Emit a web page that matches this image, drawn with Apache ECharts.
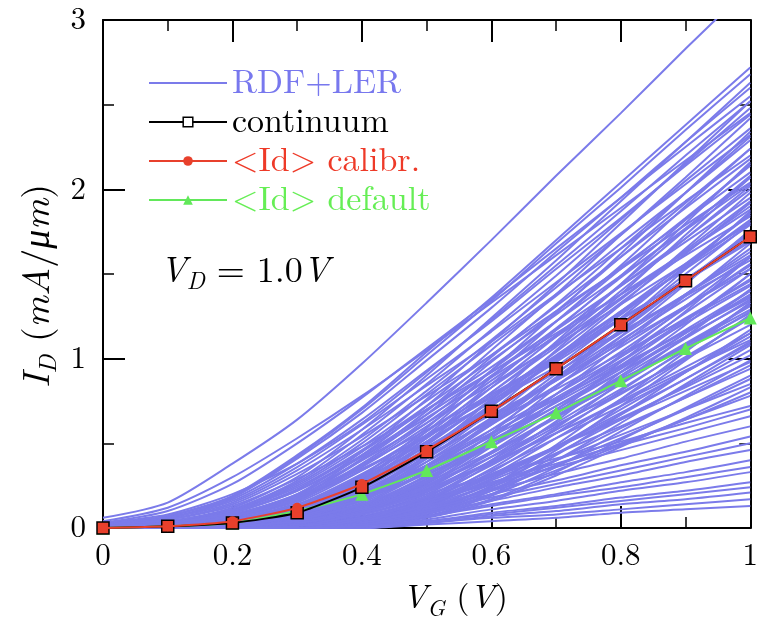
<!DOCTYPE html>
<html><head><meta charset="utf-8">
<script src="https://cdn.jsdelivr.net/npm/echarts@6/dist/echarts.min.js"></script>
<style>html,body{margin:0;padding:0;background:#fff}#c{width:761px;height:625px}</style>
</head><body><div id="c"></div>
<script>
const vg = [0,0.1,0.2,0.3,0.4,0.5,0.6,0.7,0.8,0.9,1.0];
const continuum = [0,0.01,0.03,0.09,0.24,0.45,0.69,0.94,1.2,1.46,1.72];
const calibr = [0,0.01,0.04,0.12,0.26,0.46,0.69,0.94,1.2,1.46,1.72];
const deflt = [0,0.01,0.03,0.1,0.2,0.34,0.51,0.68,0.87,1.06,1.24];
const xTicks = [0,0.2,0.4,0.6,0.8,1];
const yTicks = [0,1,2,3];
const seriesNames = ['RDF+LER','continuum','<Id> calibr.','<Id> default'];
const rdfLer = [
[0.06,0.15,0.38,0.64,0.97,1.33,1.7,2.08,2.45,2.83,3.2],
[0.04,0.12,0.3,0.53,0.78,1.05,1.33,1.61,1.89,2.17,2.45],
[0.03,0.08,0.2,0.38,0.62,0.92,1.23,1.55,1.87,2.2,2.52],
[0.02,0.07,0.19,0.43,0.71,1.04,1.36,1.7,2.04,2.38,2.72],
[0.02,0.07,0.18,0.42,0.7,1.02,1.34,1.68,2.01,2.35,2.68],
[0.01,0.04,0.12,0.3,0.58,0.9,1.24,1.58,1.93,2.28,2.63],
[0.02,0.07,0.18,0.41,0.68,0.99,1.3,1.63,1.95,2.28,2.6],
[0.03,0.1,0.26,0.5,0.77,1.06,1.35,1.65,1.95,2.25,2.55],
[0,0.02,0.07,0.2,0.45,0.76,1.1,1.44,1.8,2.16,2.52],
[0.01,0.04,0.11,0.28,0.55,0.85,1.17,1.49,1.82,2.15,2.48],
[0.02,0.06,0.17,0.38,0.64,0.93,1.22,1.53,1.83,2.14,2.44],
[0,0.02,0.07,0.19,0.43,0.72,1.05,1.38,1.73,2.07,2.42],
[0.01,0.03,0.11,0.27,0.52,0.81,1.11,1.42,1.73,2.05,2.36],
[0,0.01,0.04,0.12,0.31,0.59,0.93,1.27,1.62,1.98,2.34],
[0.02,0.06,0.16,0.36,0.61,0.88,1.16,1.45,1.74,2.03,2.32],
[0,0.02,0.07,0.18,0.41,0.69,1.01,1.32,1.65,1.98,2.31],
[0.01,0.03,0.1,0.26,0.5,0.79,1.08,1.37,1.68,1.98,2.29],
[0,0.01,0.04,0.12,0.29,0.57,0.89,1.22,1.55,1.9,2.24],
[0,0.02,0.06,0.18,0.4,0.67,0.98,1.28,1.6,1.92,2.24],
[0.02,0.06,0.15,0.34,0.58,0.84,1.1,1.38,1.65,1.93,2.2],
[0.01,0.03,0.1,0.25,0.48,0.75,1.02,1.31,1.6,1.89,2.18],
[0,0,0.02,0.07,0.2,0.45,0.76,1.1,1.44,1.8,2.16],
[0,0.01,0.04,0.11,0.28,0.55,0.85,1.17,1.49,1.82,2.15],
[0,0.02,0.06,0.17,0.38,0.64,0.93,1.22,1.53,1.83,2.14],
[0.01,0.03,0.1,0.24,0.46,0.72,0.99,1.26,1.54,1.82,2.1],
[0,0.01,0.04,0.11,0.27,0.53,0.83,1.13,1.44,1.76,2.08],
[0,0,0.02,0.07,0.19,0.43,0.72,1.05,1.38,1.73,2.07],
[0,0.02,0.06,0.16,0.37,0.62,0.9,1.18,1.48,1.77,2.07],
[0.02,0.05,0.14,0.32,0.54,0.78,1.02,1.28,1.53,1.79,2.04],
[0.01,0.03,0.09,0.23,0.45,0.7,0.95,1.22,1.49,1.76,2.03],
[0,0.01,0.03,0.11,0.26,0.51,0.8,1.09,1.4,1.71,2.02],
[0,0.02,0.06,0.16,0.36,0.6,0.87,1.14,1.43,1.71,2.0],
[0,0,0.02,0.07,0.18,0.41,0.69,1.01,1.32,1.65,1.98],
[0.01,0.03,0.09,0.22,0.43,0.67,0.92,1.17,1.43,1.69,1.95],
[0,0.01,0.03,0.1,0.25,0.49,0.76,1.04,1.33,1.62,1.92],
[0,0.02,0.05,0.15,0.34,0.57,0.83,1.09,1.36,1.63,1.9],
[0,0,0.01,0.04,0.12,0.29,0.56,0.88,1.2,1.53,1.87],
[0,0,0.02,0.06,0.17,0.39,0.65,0.95,1.24,1.55,1.86],
[0.01,0.05,0.13,0.29,0.48,0.7,0.92,1.15,1.38,1.61,1.84],
[0,0.01,0.03,0.1,0.24,0.46,0.72,0.99,1.26,1.54,1.82],
[0.01,0.03,0.08,0.2,0.4,0.62,0.85,1.08,1.32,1.56,1.8],
[0,0.02,0.05,0.14,0.32,0.54,0.78,1.02,1.28,1.53,1.79],
[0,0,0.01,0.04,0.11,0.27,0.53,0.83,1.13,1.44,1.76],
[0,0,0.02,0.06,0.16,0.36,0.61,0.88,1.16,1.45,1.74],
[0,0.01,0.03,0.09,0.23,0.44,0.68,0.94,1.19,1.46,1.72],
[0,0.01,0.05,0.13,0.31,0.51,0.75,0.98,1.23,1.47,1.72],
[0.01,0.02,0.08,0.19,0.37,0.58,0.79,1.01,1.24,1.46,1.69],
[0,0,0.01,0.03,0.1,0.26,0.5,0.79,1.08,1.37,1.68],
[0,0,0.02,0.06,0.15,0.34,0.58,0.84,1.1,1.38,1.65],
[0,0.01,0.03,0.09,0.21,0.41,0.65,0.88,1.13,1.38,1.63],
[0,0.01,0.05,0.13,0.29,0.48,0.7,0.92,1.15,1.38,1.61],
[0,0,0,0.02,0.06,0.18,0.4,0.67,0.98,1.28,1.6],
[0,0,0.01,0.03,0.1,0.25,0.48,0.75,1.02,1.31,1.6],
[0.01,0.02,0.07,0.18,0.35,0.54,0.74,0.95,1.16,1.37,1.58],
[0,0,0.02,0.05,0.14,0.33,0.55,0.79,1.04,1.3,1.56],
[0,0.01,0.03,0.08,0.2,0.39,0.61,0.84,1.07,1.31,1.55],
[0,0.01,0.04,0.12,0.27,0.46,0.67,0.87,1.09,1.31,1.53],
[0,0,0,0.02,0.06,0.17,0.38,0.63,0.92,1.2,1.5],
[0,0,0.01,0.03,0.09,0.23,0.45,0.7,0.96,1.22,1.5],
[0,0,0.01,0.05,0.13,0.31,0.51,0.75,0.98,1.23,1.47],
[0,0.01,0.02,0.08,0.19,0.37,0.58,0.79,1.01,1.24,1.46],
[0,0.01,0.04,0.11,0.26,0.43,0.63,0.82,1.03,1.23,1.44],
[0,0,0,0.02,0.06,0.16,0.35,0.59,0.86,1.13,1.41],
[0,0,0.01,0.03,0.09,0.22,0.42,0.66,0.9,1.15,1.4],
[0,0,0.01,0.05,0.13,0.29,0.48,0.7,0.92,1.15,1.38],
[0,0.01,0.02,0.07,0.18,0.35,0.54,0.74,0.95,1.16,1.37],
[0,0,0,0.01,0.03,0.1,0.25,0.49,0.76,1.04,1.33],
[0,0,0,0.02,0.05,0.15,0.33,0.56,0.81,1.06,1.33],
[0,0,0.01,0.03,0.08,0.2,0.4,0.62,0.85,1.08,1.32],
[0,0,0.01,0.04,0.12,0.27,0.45,0.66,0.86,1.08,1.29],
[0,0.01,0.02,0.07,0.17,0.32,0.5,0.69,0.88,1.07,1.27],
[0,0,0,0.01,0.03,0.1,0.24,0.46,0.72,0.99,1.26],
[0,0,0,0.02,0.05,0.14,0.31,0.53,0.76,1.0,1.25],
[0,0,0.01,0.02,0.08,0.19,0.37,0.58,0.79,1.01,1.24],
[0,0,0.01,0.04,0.11,0.25,0.42,0.61,0.8,1.0,1.2],
[0,0,0,0.01,0.03,0.09,0.22,0.43,0.67,0.92,1.17],
[0,0,0,0.01,0.05,0.13,0.29,0.48,0.7,0.92,1.15],
[0,0,0.01,0.02,0.07,0.17,0.34,0.53,0.72,0.92,1.13],
[0,0,0.01,0.04,0.1,0.23,0.39,0.56,0.74,0.93,1.11],
[0,0,0,0.01,0.03,0.08,0.2,0.4,0.62,0.85,1.08],
[0,0,0,0.01,0.04,0.12,0.26,0.44,0.64,0.84,1.05],
[0,0,0.01,0.02,0.06,0.16,0.31,0.48,0.65,0.83,1.02],
[0,0,0,0.01,0.02,0.07,0.19,0.36,0.57,0.78,0.99],
[0,0,0,0.01,0.04,0.11,0.24,0.4,0.59,0.77,0.96],
[0,0,0.01,0.02,0.06,0.14,0.28,0.44,0.6,0.77,0.94],
[0,0,0,0.01,0.02,0.07,0.17,0.33,0.52,0.71,0.9],
[0,0,0,0.01,0.04,0.1,0.22,0.37,0.53,0.7,0.88],
[0,0,0,0.02,0.05,0.13,0.26,0.4,0.55,0.7,0.85],
[0,0,0,0.01,0.02,0.06,0.16,0.31,0.48,0.65,0.83],
[0,0,0,0.01,0.03,0.09,0.2,0.34,0.49,0.64,0.8],
[0,0,0,0.02,0.05,0.12,0.23,0.37,0.5,0.64,0.78],
[0,0.01,0.03,0.1,0.25,0.47,0.73,1.0,1.28,1.56,1.85],
[0,0,0.02,0.06,0.16,0.37,0.63,0.91,1.2,1.5,1.8],
[0.01,0.02,0.07,0.17,0.34,0.55,0.77,1.0,1.23,1.47,1.7],
[0,0.01,0.03,0.09,0.22,0.42,0.64,0.87,1.11,1.35,1.6],
[0,0,0.01,0.04,0.12,0.28,0.5,0.75,1.01,1.27,1.53],
[0,0,0.01,0.05,0.14,0.3,0.5,0.72,0.94,1.17,1.4],
[0,0.01,0.03,0.09,0.2,0.37,0.56,0.76,0.96,1.16,1.36],
[0,0,0.01,0.03,0.09,0.21,0.39,0.6,0.82,1.05,1.28],
[0,0,0.01,0.04,0.1,0.22,0.38,0.56,0.75,0.95,1.15],
[0,0,0,0.02,0.06,0.15,0.3,0.48,0.68,0.88,1.09],
[0,0,0.01,0.03,0.08,0.18,0.32,0.48,0.64,0.81,0.98],
[0,0.01,0.04,0.12,0.28,0.5,0.75,1.01,1.27,1.54,1.81],
[0.01,0.03,0.09,0.22,0.42,0.65,0.89,1.13,1.38,1.63,1.88],
[0,0.01,0.04,0.13,0.3,0.53,0.8,1.07,1.35,1.64,1.93],
[0,0,0.02,0.06,0.17,0.37,0.62,0.89,1.17,1.46,1.75],
[0,0.01,0.02,0.07,0.17,0.33,0.52,0.72,0.92,1.13,1.34],
[0,0,0.01,0.03,0.1,0.24,0.44,0.66,0.89,1.12,1.35],
[0,0,0,0.02,0.05,0.14,0.29,0.47,0.67,0.88,1.1],
[0,0.01,0.03,0.08,0.19,0.36,0.56,0.77,0.99,1.21,1.43],
[0,0,0.01,0.04,0.11,0.25,0.44,0.65,0.87,1.09,1.31],
[0,0,0,0.01,0.09,0.2,0.31,0.41,0.51,0.62,0.72],
[0,0,0,0.01,0.06,0.16,0.26,0.36,0.46,0.56,0.66],
[0,0,0,0,0.04,0.13,0.22,0.32,0.41,0.51,0.6],
[0,0,0,0,0.03,0.11,0.2,0.28,0.37,0.45,0.54],
[0,0,0,0,0.02,0.09,0.16,0.24,0.31,0.39,0.46],
[0,0,0,0,0.01,0.07,0.14,0.2,0.27,0.33,0.4],
[0,0,0,0,0.01,0.05,0.11,0.16,0.22,0.27,0.33],
[0,0,0,0,0.01,0.04,0.09,0.13,0.18,0.22,0.27],
[0,0,0,0,0,0.03,0.07,0.1,0.14,0.17,0.21],
[0,0,0,0,0,0.03,0.06,0.08,0.11,0.14,0.17],
[0,0,0,0,0,0.02,0.04,0.06,0.09,0.11,0.13],
[0,0,0,0,0.03,0.1,0.18,0.26,0.34,0.42,0.5],
[0,0,0,0,0.02,0.07,0.13,0.19,0.24,0.3,0.36],
[0,0,0,0,0.05,0.16,0.27,0.38,0.49,0.59,0.7],
[0,0,0,0,0.01,0.04,0.08,0.12,0.16,0.2,0.24]
];

const BLUE = '#7b7bea', RED = '#e8402c', GREEN = '#62e85a', BLACK = '#000';
const LM = 'Latin Modern Roman';
const pairs = arr => vg.map((x, i) => [x, arr[i]]);

const series = [];
rdfLer.forEach(row => series.push({
  type: 'line', name: seriesNames[0], data: pairs(row), symbol: 'none',
  smooth: 0.25, silent: true, z: 2,
  lineStyle: { color: BLUE, width: 2 }, itemStyle: { color: BLUE }
}));
series.push({
  type: 'line', name: seriesNames[3], data: pairs(deflt), symbol: 'triangle', symbolSize: 13,
  smooth: 0.2, z: 4,
  lineStyle: { color: GREEN, width: 2 }, itemStyle: { color: GREEN }
});
series.push({
  type: 'line', name: seriesNames[1], data: pairs(continuum), symbol: 'rect', symbolSize: 12,
  smooth: 0.2, z: 5,
  lineStyle: { color: BLACK, width: 2 }, itemStyle: { color: RED, borderColor: BLACK, borderWidth: 1.5 }
});
series.push({
  type: 'line', name: seriesNames[2], data: pairs(calibr), symbol: 'circle', symbolSize: 10,
  smooth: 0.2, z: 6,
  lineStyle: { color: RED, width: 2 }, itemStyle: { color: RED }
});

const axisCommon = {
  type: 'value', min: 0,
  axisLine: { show: true, onZero: false, lineStyle: { color: '#000', width: 2 } },
  axisTick: { show: true, inside: true, length: 22, lineStyle: { color: '#000', width: 2 } },
  minorTick: { show: true, splitNumber: 2, length: 11, lineStyle: { color: '#000', width: 1.5 } },
  splitLine: { show: false }, minorSplitLine: { show: false }
};
const labelStyle = { color: '#000', fontFamily: LM, fontSize: 31 };
const richMath = (size, subSize, lh) => ({
  i: { fontFamily: LM, fontStyle: 'italic', fontSize: size, lineHeight: lh, fill: '#000', color: '#000' },
  u: { fontFamily: LM, fontSize: size, lineHeight: lh, fill: '#000', color: '#000' },
  s: { fontFamily: LM, fontStyle: 'italic', fontSize: subSize, lineHeight: subSize, verticalAlign: 'bottom', fill: '#000', color: '#000' }
});

const option = {
  animation: false,
  backgroundColor: '#fff',
  textStyle: { fontFamily: LM },
  grid: { left: 103, right: 9, top: 20, bottom: 97, containLabel: false },
  xAxis: [
    Object.assign({}, axisCommon, { max: 1, interval: 0.2, position: 'bottom',
      axisLabel: Object.assign({ margin: 12, formatter: v => String(+v.toFixed(1)) }, labelStyle) }),
    Object.assign({}, axisCommon, { max: 1, interval: 0.2, position: 'top', axisLabel: { show: false } })
  ],
  yAxis: [
    Object.assign({}, axisCommon, { max: 3, interval: 1, position: 'left',
      axisLabel: Object.assign({ margin: 17 }, labelStyle) }),
    Object.assign({}, axisCommon, { max: 3, interval: 1, position: 'right', axisLabel: { show: false } })
  ],
  legend: {
    orient: 'vertical', left: 143, top: 59, itemWidth: 78, itemHeight: 12, itemGap: 1,
    selectedMode: false,
    textStyle: { fontFamily: LM, fontSize: 34, lineHeight: 38, padding: [0, 0, 0, 0] },
    data: [
      { name: seriesNames[0], textStyle: { color: '#7878ee', fontFamily: LM }, itemStyle: { opacity: 0 } },
      { name: seriesNames[1], textStyle: { color: '#000', fontFamily: LM }, itemStyle: { color: '#fff', borderColor: '#000', borderWidth: 1.5 } },
      { name: seriesNames[2], textStyle: { color: '#ee3a28', fontFamily: LM } },
      { name: seriesNames[3], textStyle: { color: '#66ee55', fontFamily: LM } }
    ]
  },
  graphic: [
    { type: 'text', x: 160, y: 248, z: 100, style: {
        text: '{i|V}{s|D}{u| = 1.0}{i|V}', rich: richMath(36, 24, 46) } },
    { type: 'text', x: 455, y: 598, z: 100, style: {
        text: '{i|V}{s|G}{u| (}{i|V}{u|)}', align: 'center', verticalAlign: 'middle', rich: richMath(34, 23, 44) } },
    { type: 'group', x: 37, y: 286, rotation: Math.PI / 2, children: [
      { type: 'text', x: 0, y: 0, z: 100, style: {
        text: '{i|I}{s|D}{u| (}{i|mA}{u|/}{i|μm}{u|)}', align: 'center', verticalAlign: 'middle', rich: richMath(38, 25, 48) } }
    ] }
  ],
  series: series
};

const chart = echarts.init(document.getElementById('c'), null, { renderer: 'canvas' });
chart.setOption(option);
</script>
</body></html>
